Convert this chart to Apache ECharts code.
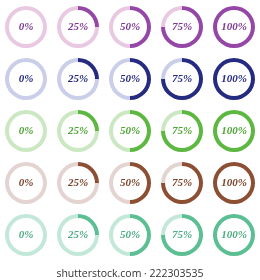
<!DOCTYPE html>
<html>
<head>
<meta charset="utf-8">
<script src="https://cdn.jsdelivr.net/npm/echarts@6/dist/echarts.min.js"></script>
<style>html,body{margin:0;padding:0;background:#fff}#c{width:260px;height:280px}</style>
</head>
<body>
<div id="c"></div>
<script>
// Data
var percentValues = [0, 25, 50, 75, 100];
var percentLabels = ['0%', '25%', '50%', '75%', '100%'];
var rowThemes = ['purple', 'navy', 'green', 'brown', 'teal'];
var watermark = 'shutterstock.com \u00b7 222303535';

// Styles
var progressColors = ['#9447a6', '#252b80', '#5cb840', '#8c4f33', '#5cbf93'];
var trackColors = ['#e9c9e2', '#cacee9', '#cbe8c3', '#e3d4d1', '#c3e8da'];
var textColors = ['#7d3a92', '#252b80', '#4ea434', '#7d432b', '#4eac84'];
var colX = [26, 78, 130, 182, 234];
var rowY = [27, 79, 131, 183, 235];

var series = [];
rowThemes.forEach(function (theme, r) {
  percentValues.forEach(function (v, c) {
    series.push({
      type: 'pie',
      name: theme + ' ' + percentLabels[c],
      center: [colX[c], rowY[r]],
      radius: [17, 21],
      startAngle: 90,
      clockwise: true,
      silent: true,
      animation: false,
      avoidLabelOverlap: false,
      label: { show: false },
      labelLine: { show: false },
      emphasis: { disabled: true },
      itemStyle: { borderWidth: 0 },
      data: [
        { value: v, itemStyle: { color: progressColors[r] },
          label: { show: true, position: 'center', formatter: percentLabels[c],
            color: textColors[r], fontFamily: 'Liberation Serif', fontStyle: 'italic',
            fontWeight: 'bold', fontSize: 11 } },
        { value: 100 - v, itemStyle: { color: trackColors[r] } }
      ]
    });
  });
});

var chart = echarts.init(document.getElementById('c'), null, { renderer: 'canvas' });
chart.setOption({
  backgroundColor: '#ffffff',
  title: {
    text: watermark, left: 'center', top: 264,
    textStyle: { fontFamily: 'Open Sans', fontWeight: 'normal', fontSize: 10.5, color: '#333333' }
  },
  series: series
});
</script>
</body>
</html>
